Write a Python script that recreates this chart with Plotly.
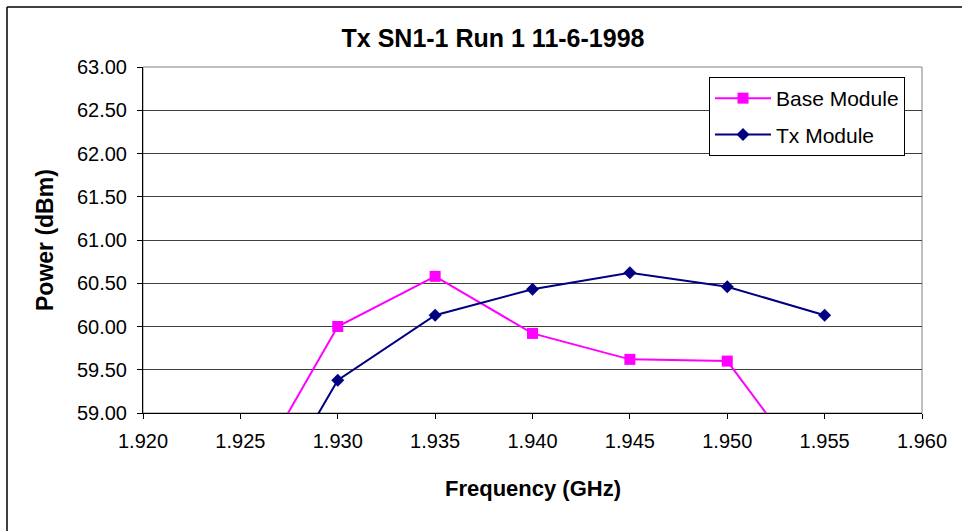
import plotly.graph_objects as go

freq = [1.925, 1.930, 1.935, 1.940, 1.945, 1.950, 1.955]
base_module = [58.04, 60.00, 60.58, 59.92, 59.62, 59.60, 58.09]
tx_module = [57.44, 59.38, 60.13, 60.43, 60.62, 60.46, 60.13]

title_text = "Tx SN1-1 Run 1 11-6-1998"
x_title = "Frequency (GHz)"
y_title = "Power (dBm)"

FONT = "Arial, Liberation Sans, sans-serif"
W, H = 962, 531
L, R, T, B = 143, 40, 67, 118
PW, PH = W - L - R, H - T - B


def px_to_paper_x(p):
    return (p - L) / PW


def px_to_paper_y(p):
    return (H - B - p) / PH


fig = go.Figure()
fig.add_trace(go.Scatter(
    x=freq, y=base_module, name="Base Module", mode="lines+markers",
    legendgroup="a",
    line=dict(color="#FF00FF", width=2),
    marker=dict(symbol="square", size=11, color="#FF00FF"),
))
fig.add_trace(go.Scatter(
    x=freq, y=tx_module, name="Tx Module", mode="lines+markers",
    legendgroup="b",
    line=dict(color="#000080", width=2),
    marker=dict(symbol="diamond", size=10, color="#000080"),
))

fig.update_layout(
    width=W, height=H,
    margin=dict(l=L, r=R, t=T, b=B),
    paper_bgcolor="white", plot_bgcolor="white",
    font=dict(family=FONT, size=20, color="black"),
    title=dict(text="<b>" + title_text + "</b>", x=493 / W, xanchor="center",
               y=1 - 38 / H, yanchor="middle", yref="container",
               font=dict(size=25, family=FONT, color="black")),
    showlegend=True,
    legend=dict(x=px_to_paper_x(709), y=px_to_paper_y(77), xanchor="left", yanchor="top",
                bordercolor="black", borderwidth=1, bgcolor="white",
                font=dict(size=21, family=FONT, color="black"),
                itemwidth=56,
                traceorder="grouped", tracegroupgap=6),
    xaxis=dict(range=[1.920, 1.960], tickmode="linear", tick0=1.920, dtick=0.005,
               tickformat=".3f", showgrid=False, zeroline=False,
               showline=True, linecolor="black", linewidth=1,
               ticks="outside", ticklen=5, tickcolor="black",
               ticklabelstandoff=5,
               tickfont=dict(size=20, family=FONT)),
    yaxis=dict(range=[59, 63], tickmode="linear", tick0=59, dtick=0.5,
               tickformat=".2f", showgrid=True, gridcolor="#404040", gridwidth=1,
               zeroline=False, showline=True, linecolor="black", linewidth=1,
               ticks="outside", ticklen=5, tickcolor="black",
               ticklabelstandoff=6,
               tickfont=dict(size=20, family=FONT)),
    shapes=[
        dict(type="rect", xref="paper", yref="paper", x0=0, x1=1, y0=0, y1=1,
             line=dict(color="#808080", width=1), layer="below"),
        dict(type="line", xref="paper", yref="paper",
             x0=px_to_paper_x(7), x1=px_to_paper_x(W + 5),
             y0=px_to_paper_y(7), y1=px_to_paper_y(7),
             line=dict(color="black", width=1.5)),
        dict(type="line", xref="paper", yref="paper",
             x0=px_to_paper_x(7), x1=px_to_paper_x(7),
             y0=px_to_paper_y(7), y1=px_to_paper_y(H + 5),
             line=dict(color="black", width=1.5)),
    ],
    annotations=[
        dict(text="<b>" + x_title + "</b>", xref="paper", yref="paper",
             x=0.5, y=px_to_paper_y(488), xanchor="center", yanchor="middle",
             showarrow=False, font=dict(size=22, family=FONT, color="black")),
        dict(text="<b>" + y_title + "</b>", xref="paper", yref="paper",
             x=px_to_paper_x(45), y=0.5, xanchor="center", yanchor="middle",
             textangle=-90, showarrow=False,
             font=dict(size=23, family=FONT, color="black")),
    ],
)

fig.write_html("out.html",
               config={"displayModeBar": False},
               post_script="document.body.style.margin='0';document.body.style.overflow='hidden';")
